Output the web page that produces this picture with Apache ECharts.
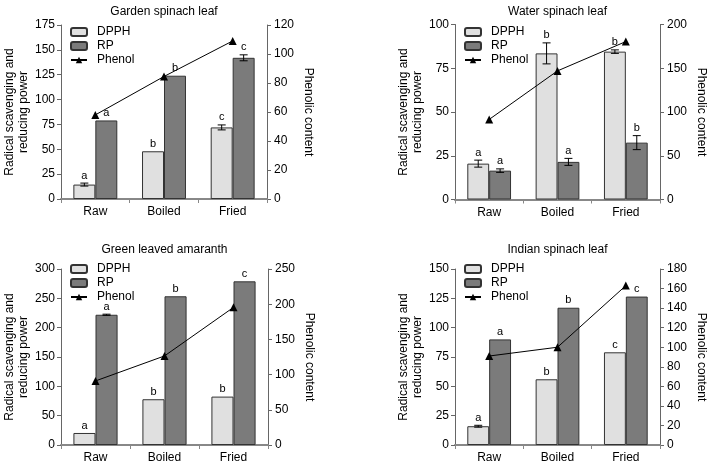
<!DOCTYPE html>
<html><head><meta charset="utf-8">
<script src="https://cdn.jsdelivr.net/npm/echarts/dist/echarts.min.js"></script>
<style>html,body{margin:0;padding:0;background:#fff}#c{width:713px;height:469px}</style>
</head><body><div id="c"></div><script>
const categories = ['Raw', 'Boiled', 'Fried'];
const panelTitles = ['Garden spinach leaf', 'Water spinach leaf', 'Green leaved amaranth', 'Indian spinach leaf'];

const gardenDPPH = [14.5, 48, 72];
const gardenDPPHErr = [1.5, 0, 2.5];
const gardenRP = [79, 124, 142];
const gardenRPErr = [0, 0, 3];
const gardenPhenol = [58, 84.5, 109];
const gardenDPPHLetters = ['a', 'b', 'c'];
const gardenRPLetters = ['a', 'b', 'c'];

const waterDPPH = [20.5, 83.5, 84.5];
const waterDPPHErr = [2, 6, 1];
const waterRP = [16.5, 21.5, 32.5];
const waterRPErr = [1, 2, 4];
const waterPhenol = [91.5, 147, 180.5];
const waterDPPHLetters = ['a', 'b', 'b'];
const waterRPLetters = ['a', 'a', 'b'];

const amaranthDPPH = [20.5, 78, 82.5];
const amaranthDPPHErr = [0, 0, 0];
const amaranthRP = [222, 253.5, 279];
const amaranthRPErr = [1, 0, 0];
const amaranthPhenol = [91, 126.5, 195.5];
const amaranthDPPHLetters = ['a', 'b', 'b'];
const amaranthRPLetters = ['a', 'b', 'c'];

const indianDPPH = [16, 56, 79];
const indianDPPHErr = [0.8, 0, 0];
const indianRP = [90, 117, 126.5];
const indianRPErr = [0, 0, 0];
const indianPhenol = [91, 100, 163];
const indianDPPHLetters = ['a', 'b', 'c'];
const indianRPLetters = ['a', 'b', 'c'];

const leftMax = [175, 100, 300, 150];
const leftInterval = [25, 25, 50, 25];
const rightMax = [120, 200, 250, 180];
const rightInterval = [20, 50, 50, 20];

const panels = [
  {dpph: gardenDPPH, dErr: gardenDPPHErr, rp: gardenRP, rErr: gardenRPErr, ph: gardenPhenol, dL: gardenDPPHLetters, rL: gardenRPLetters},
  {dpph: waterDPPH, dErr: waterDPPHErr, rp: waterRP, rErr: waterRPErr, ph: waterPhenol, dL: waterDPPHLetters, rL: waterRPLetters},
  {dpph: amaranthDPPH, dErr: amaranthDPPHErr, rp: amaranthRP, rErr: amaranthRPErr, ph: amaranthPhenol, dL: amaranthDPPHLetters, rL: amaranthRPLetters},
  {dpph: indianDPPH, dErr: indianDPPHErr, rp: indianRP, rErr: indianRPErr, ph: indianPhenol, dL: indianDPPHLetters, rL: indianRPLetters}
];

const layout = [
  {left: 61, top: 25, width: 206, height: 174, titleTop: 6, legendTop: 26},
  {left: 455, top: 24.5, width: 205, height: 175, titleTop: 6, legendTop: 26},
  {left: 61, top: 269, width: 207, height: 176, titleTop: 244, legendTop: 263},
  {left: 455, top: 269, width: 205, height: 176, titleTop: 244, legendTop: 263}
];

const FONT = 'Liberation Sans, Arial, sans-serif';
const chart = echarts.init(document.getElementById('c'), null, {renderer: 'canvas'});

function errRender(sign, letters) {
  return function (params, api) {
    const i = api.value(0), v = api.value(1), e = api.value(2);
    const band = api.size([1, 0])[0];
    const top = api.coord([i, v + e]);
    const bot = api.coord([i, v - e]);
    const x = top[0] + sign * band * 0.16;
    const children = [];
    if (e > 0) {
      const cap = 4;
      const st = {stroke: '#000', lineWidth: 1};
      children.push({type: 'line', shape: {x1: x, y1: top[1], x2: x, y2: bot[1]}, style: st});
      children.push({type: 'line', shape: {x1: x - cap, y1: top[1], x2: x + cap, y2: top[1]}, style: st});
      children.push({type: 'line', shape: {x1: x - cap, y1: bot[1], x2: x + cap, y2: bot[1]}, style: st});
    }
    children.push({type: 'text', x: x, y: top[1] - 2,
      style: {text: letters[i], align: 'center', verticalAlign: 'bottom', fontSize: 11, fill: '#000', fontFamily: FONT}});
    return {type: 'group', children: children};
  };
}

const grid = [], xAxis = [], yAxis = [], series = [], title = [], legend = [];
panels.forEach(function (p, k) {
  const L = layout[k];
  grid.push({left: L.left, top: L.top, width: L.width, height: L.height});
  title.push({text: panelTitles[k], left: L.left + L.width / 2, top: L.titleTop, textAlign: 'center', padding: 0,
    textStyle: {fontSize: 12, fontWeight: 'normal', color: '#000', fontFamily: FONT}});
  legend.push({orient: 'vertical', left: L.left + 9, top: L.legendTop, itemWidth: 16, itemHeight: 8, itemGap: 2, padding: 0,
    data: ['DPPH', 'RP', 'Phenol'], selectedMode: false,
    textStyle: {fontSize: 12, color: '#000', fontFamily: FONT, padding: [0, 0, 0, 5]}});
  xAxis.push({type: 'category', gridIndex: k, data: categories, boundaryGap: true,
    axisLine: {lineStyle: {color: '#888', width: 2}},
    axisTick: {show: true, length: 4, lineStyle: {color: '#888'}},
    axisLabel: {fontSize: 12, color: '#000', fontFamily: FONT, margin: 7}});
  yAxis.push({type: 'value', gridIndex: k, position: 'left', min: 0, max: leftMax[k], interval: leftInterval[k],
    name: 'Radical scavenging and\nreducing power', nameLocation: 'middle', nameRotate: 90, nameGap: 26,
    nameTextStyle: {fontSize: 12, color: '#000', fontFamily: FONT, lineHeight: 14},
    splitLine: {show: false},
    axisLine: {show: true, lineStyle: {color: '#666', width: 1}},
    axisTick: {show: true, length: 4, lineStyle: {color: '#666'}},
    axisLabel: {fontSize: 12, color: '#000', fontFamily: FONT, margin: 6}});
  yAxis.push({type: 'value', gridIndex: k, position: 'right', min: 0, max: rightMax[k], interval: rightInterval[k],
    name: 'Phenolic content', nameLocation: 'middle', nameRotate: -90, nameGap: 35,
    nameTextStyle: {fontSize: 12, color: '#000', fontFamily: FONT},
    splitLine: {show: false},
    axisLine: {show: true, lineStyle: {color: '#666', width: 1}},
    axisTick: {show: true, length: 4, lineStyle: {color: '#666'}},
    axisLabel: {fontSize: 12, color: '#000', fontFamily: FONT, margin: 7}});
  const yl = 2 * k, yr = 2 * k + 1;
  series.push({name: 'DPPH', type: 'bar', xAxisIndex: k, yAxisIndex: yl, data: p.dpph, barWidth: '32%', barGap: '0%',
    itemStyle: {color: '#e0e0e0', borderColor: '#333', borderWidth: 1}});
  series.push({name: 'RP', type: 'bar', xAxisIndex: k, yAxisIndex: yl, data: p.rp, barWidth: '32%', barGap: '0%',
    itemStyle: {color: '#7b7b7b', borderColor: '#333', borderWidth: 1}});
  series.push({name: 'Phenol', type: 'line', xAxisIndex: k, yAxisIndex: yr, data: p.ph, symbol: 'triangle', symbolSize: 8,
    itemStyle: {color: '#000'}, lineStyle: {color: '#000', width: 1}, z: 5});
  series.push({name: 'errD' + k, type: 'custom', xAxisIndex: k, yAxisIndex: yl, z: 6,
    data: p.dpph.map(function (v, i) { return [i, v, p.dErr[i]]; }), renderItem: errRender(-1, p.dL)});
  series.push({name: 'errR' + k, type: 'custom', xAxisIndex: k, yAxisIndex: yl, z: 6,
    data: p.rp.map(function (v, i) { return [i, v, p.rErr[i]]; }), renderItem: errRender(1, p.rL)});
});

chart.setOption({animation: false, backgroundColor: '#fff', title: title, legend: legend, grid: grid,
  xAxis: xAxis, yAxis: yAxis, series: series});
</script></body></html>
